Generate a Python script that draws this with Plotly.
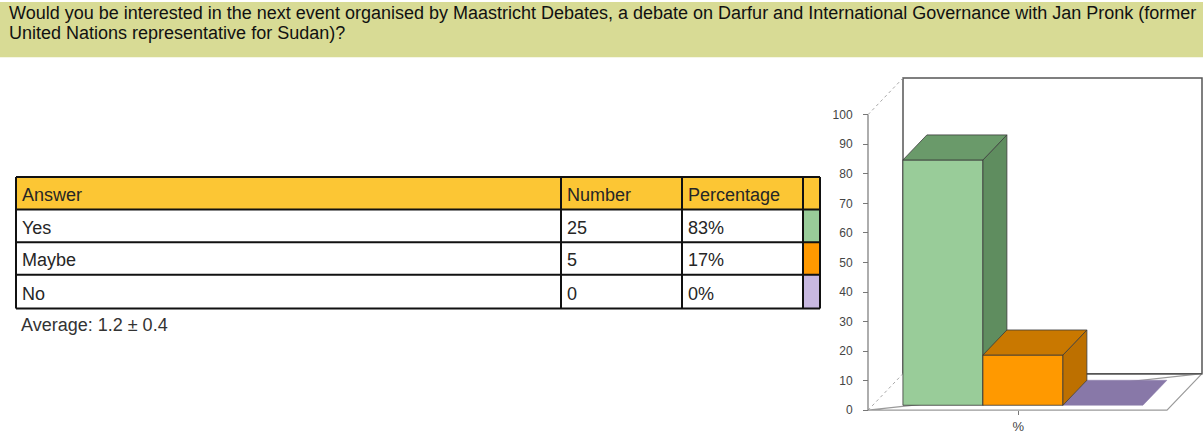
import plotly.graph_objects as go

W_PX, H_PX = 1203, 434

# ---- survey data ----
question_lines = [
    "Would you be interested in the next event organised by Maastricht Debates, "
    "a debate on Darfur and International Governance with Jan Pronk (former",
    "United Nations representative for Sudan)?",
]
headers = ["Answer", "Number", "Percentage"]
answers = ["Yes", "Maybe", "No"]
numbers = [25, 5, 0]
percentages = [83, 17, 0]
average_text = "Average: 1.2 \u00b1 0.4"
y_ticks = [0, 10, 20, 30, 40, 50, 60, 70, 80, 90, 100]
x_label = "%"

# colours for each answer (front, top, side, legend swatch)
front_cols = ["#99cc99", "#ff9900", "#8f80b0"]
top_cols = ["#6a9a6a", "#c97800", "#8878a8"]
side_cols = ["#5f8d5f", "#bd7000", "#7f70a0"]
swatch_cols = ["#99cc99", "#ff9900", "#c8b8e0"]
header_col = "#fcc634"
band_col = "#d8db95"
FONT = "Liberation Sans, Arial"


def px_x(p):
    return p / W_PX


def px_y(p):
    return 1 - p / H_PX


fig = go.Figure()
shapes = []
annotations = []

# ---- title band ----
shapes.append(dict(type="rect", xref="paper", yref="paper", x0=0, x1=1,
                   y0=px_y(58), y1=px_y(2), fillcolor=band_col, line=dict(width=0),
                   layer="below"))
for k, line in enumerate(question_lines):
    annotations.append(dict(text=line, xref="paper", yref="paper", x=px_x(7),
                            y=px_y(13 + 20 * k), xanchor="left", yanchor="middle",
                            showarrow=False,
                            font=dict(family=FONT, size=18, color="#111111")))

# ---- answer table ----
col_edges = [16, 561, 682, 803, 820]
row_edges = [179, 212, 245, 278, 312]
text_pad = 4
tbl_font = dict(family=FONT, size=18, color="#262626")

# header fill and swatches
shapes.append(dict(type="rect", xref="paper", yref="paper",
                   x0=px_x(col_edges[0]), x1=px_x(col_edges[-1]),
                   y0=px_y(row_edges[1]), y1=px_y(row_edges[0]),
                   fillcolor=header_col, line=dict(width=0), layer="below"))
for r, col in enumerate(swatch_cols):
    shapes.append(dict(type="rect", xref="paper", yref="paper",
                       x0=px_x(col_edges[3]), x1=px_x(col_edges[4]),
                       y0=px_y(row_edges[r + 2]), y1=px_y(row_edges[r + 1]),
                       fillcolor=col, line=dict(width=0), layer="below"))
# grid lines
for yv in row_edges:
    shapes.append(dict(type="line", xref="paper", yref="paper",
                       x0=px_x(col_edges[0]), x1=px_x(col_edges[-1]),
                       y0=px_y(yv), y1=px_y(yv), line=dict(color="#111111", width=2)))
for xv in col_edges:
    shapes.append(dict(type="line", xref="paper", yref="paper",
                       x0=px_x(xv), x1=px_x(xv),
                       y0=px_y(row_edges[-1]), y1=px_y(row_edges[0]),
                       line=dict(color="#111111", width=2)))

rows = [headers] + [[a, str(n), f"{p}%"] for a, n, p in zip(answers, numbers, percentages)]
for r, row in enumerate(rows):
    yc = (row_edges[r] + row_edges[r + 1]) / 2 + 2
    for c, txt in enumerate(row):
        annotations.append(dict(text=txt, xref="paper", yref="paper",
                                x=px_x(col_edges[c] + text_pad), y=px_y(yc),
                                xanchor="left", yanchor="middle", showarrow=False,
                                font=tbl_font))

annotations.append(dict(text=average_text, xref="paper", yref="paper", x=px_x(19),
                        y=px_y(329), xanchor="left", yanchor="middle", showarrow=False,
                        font=dict(family=FONT, size=18, color="#333333")))

# ---- pseudo-3D bar chart geometry (world units) ----
UNIT_PX = 80.0           # one category width in pixels
ORIGIN_PX = 903.0        # screen x of world x = 0
VAL_PX = 2.99            # pixels per percentage point
ZERO_PX = 415.0          # screen y of value 0 on the front edge

DX = 35 / UNIT_PX        # oblique depth shift, x units
DY = 37 / VAL_PX         # oblique depth shift, value units
X0, X1 = -35 / UNIT_PX, (1167 - ORIGIN_PX) / UNIT_PX
BAR_X0 = -0.06
BAR_W = 1.0
Z0, Z1 = 0.135, 0.82
VMAX = 100


def proj(x, v, z):
    return x + z * DX, v + z * DY


def poly(pts, fill, line_col, width=1.0, dash="solid"):
    xs, ys = zip(*[proj(*p) for p in pts])
    fig.add_trace(go.Scatter(
        x=list(xs) + [xs[0]], y=list(ys) + [ys[0]], mode="lines",
        fill="toself" if fill else None, fillcolor=fill,
        line=dict(color=line_col, width=width, dash=dash),
        hoverinfo="skip", showlegend=False))


def seg(p, q, col, width=1.0, dash="solid"):
    a, b = proj(*p), proj(*q)
    fig.add_trace(go.Scatter(
        x=[a[0], b[0]], y=[a[1], b[1]], mode="lines",
        line=dict(color=col, width=width, dash=dash),
        hoverinfo="skip", showlegend=False))


# back wall
poly([(X0, 0, 1), (X1, 0, 1), (X1, VMAX, 1), (X0, VMAX, 1)], "white", "#555555", 1.5)
# floor
poly([(X0, 0, 0), (X1, 0, 0), (X1, 0, 1)], "white", "#9a9a9a", 1.2)
seg((X0, 0, 1), (X1, 0, 1), "#555555", 1.5)
# left depth edges
seg((X0, 0, 0), (X0, 0, 1), "#a8a8a8", 1, "dot")
seg((X0, VMAX, 0), (X0, VMAX, 1), "#a8a8a8", 1, "dot")
# value axis line
seg((X0, 0, 0), (X0, VMAX, 0), "#777777", 1.2)


def bar(i):
    v = percentages[i]
    xa, xb = BAR_X0 + i * BAR_W, BAR_X0 + (i + 1) * BAR_W
    edge = "#3a3a3a"
    if v > 0:
        poly([(xa, 0, Z0), (xb, 0, Z0), (xb, v, Z0), (xa, v, Z0)], front_cols[i], edge, 0.8)
        poly([(xb, 0, Z0), (xb, 0, Z1), (xb, v, Z1), (xb, v, Z0)], side_cols[i], edge, 0.8)
        poly([(xa, v, Z0), (xb, v, Z0), (xb, v, Z1), (xa, v, Z1)], top_cols[i], edge, 0.8)
    else:
        poly([(xa, v, Z0), (xb, v, Z0), (xb, v, Z1), (xa, v, Z1)], top_cols[i], top_cols[i], 0.5)


for i in [0, 2, 1]:
    bar(i)

# category tick position (centre of the bar group)
x_center = proj(BAR_X0 + 1.5 * BAR_W, 0, 0)[0]

x_lo = (820 - ORIGIN_PX) / UNIT_PX
x_hi = (W_PX - ORIGIN_PX) / UNIT_PX
y_lo = -(H_PX - ZERO_PX) / VAL_PX
y_hi = ZERO_PX / VAL_PX

fig.update_layout(
    width=W_PX, height=H_PX,
    margin=dict(l=0, r=0, t=0, b=0),
    paper_bgcolor="white", plot_bgcolor="rgba(0,0,0,0)",
    xaxis=dict(domain=[px_x(820), 1], range=[x_lo, x_hi], showgrid=False, zeroline=False,
               showline=False, tickvals=[x_center], ticktext=[x_label], ticks="outside",
               ticklen=4, tickcolor="#777777", anchor="free", position=px_y(ZERO_PX),
               tickfont=dict(family=FONT, size=13, color="#444444"), fixedrange=True),
    yaxis=dict(domain=[0, 1], range=[y_lo, y_hi], showgrid=False, zeroline=False,
               showline=False, tickvals=y_ticks, ticks="outside", ticklen=5,
               tickcolor="#777777", anchor="free", position=px_x(868),
               ticklabelstandoff=8,
               tickfont=dict(family=FONT, size=12, color="#444444"), fixedrange=True),
    shapes=shapes,
    annotations=annotations,
)

fig.write_html("out.html")
